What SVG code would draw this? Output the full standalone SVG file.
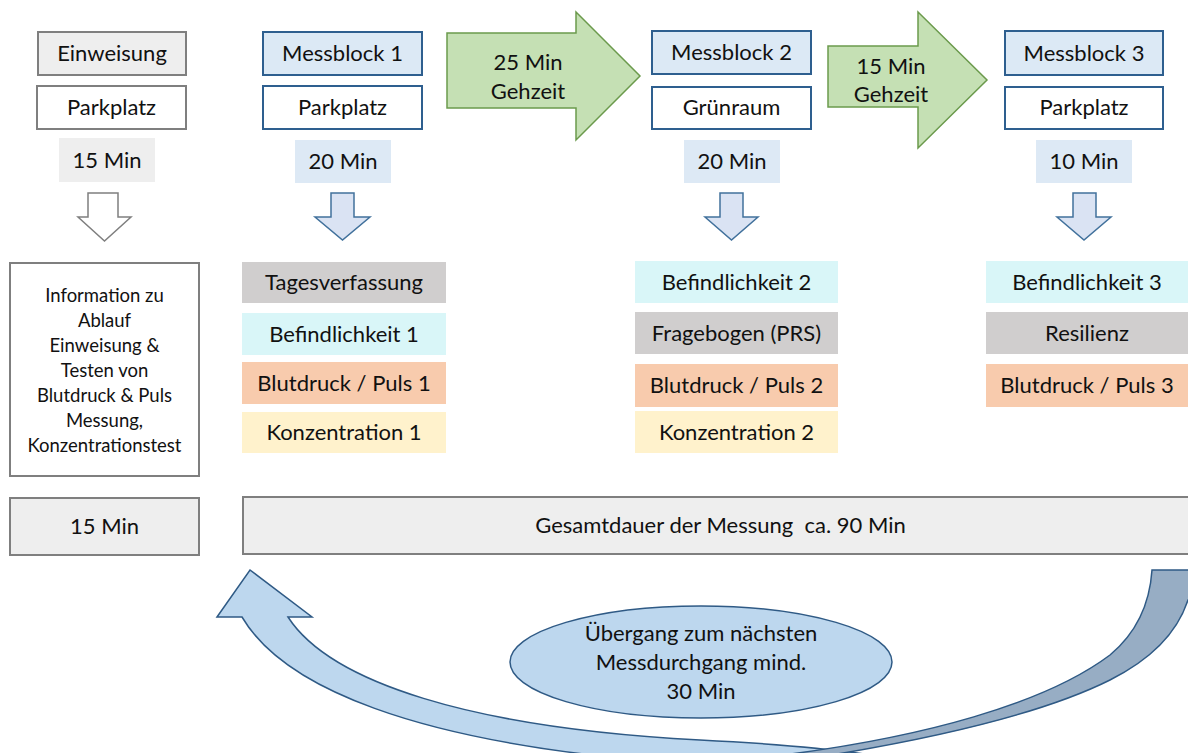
<svg xmlns="http://www.w3.org/2000/svg" width="1188" height="753" viewBox="0 0 1188 753">
<style>
text{font-family:Lato,"Open Sans","DejaVu Sans",sans-serif;fill:#111;text-anchor:middle}
.t{font-size:22px}
.s{font-size:18.5px}
.g{fill:#eeeeee;stroke:#7f7f7f;stroke-width:2}
.w{fill:#ffffff;stroke:#7f7f7f;stroke-width:2}
.bh{fill:#dce9f5;stroke:#2e5f8f;stroke-width:2}
.bw{fill:#ffffff;stroke:#2e5f8f;stroke-width:2}
.gt{fill:#eeeeee}
.bt{fill:#dde9f5}
.da{fill:#dae3f3;stroke:#41719c;stroke-width:1.5}
.dw{fill:#ffffff;stroke:#7f7f7f;stroke-width:1.5}
.ga{fill:#c5e0b4;stroke:#6b9a4c;stroke-width:1.5}
.c1{fill:#d0cece}
.c2{fill:#d9f6f8}
.c3{fill:#f8cbad}
.c4{fill:#fff2cc}
</style>
<rect width="1188" height="753" fill="#ffffff"/>

<g id="connectors">
  <polygon class="dw" points="88,193 118,193 118,217 131,217 104.5,241 78,217 88,217"/>
  <polygon class="da" points="331,193 354,193 354,217 370,217 342.5,240 315,217 331,217"/>
  <polygon class="da" points="720,193 743,193 743,217 758,217 731.5,240 705,217 720,217"/>
  <polygon class="da" points="1073,193 1096,193 1096,217 1111,217 1084,240 1057,217 1073,217"/>
  <g id="walk1">
    <polygon class="ga" points="447,33 576,33 576,12 640,76 576,140 576,108 447,108"/>
    <text class="t" x="528" y="70">25 Min</text>
    <text class="t" x="528" y="99">Gehzeit</text>
  </g>
  <g id="walk2">
    <polygon class="ga" points="828,46 918,46 918,12 987,80 918,148 918,107 828,107"/>
    <text class="t" x="891" y="74">15 Min</text>
    <text class="t" x="891" y="102">Gehzeit</text>
  </g>
  <g id="loop">
    <path d="M217,617 L250,570 L312,617 L288,617 C330,682 470,728 700,740 C780,744 850,750 900,760 L640,760 C420,740 285,690 242,617 Z" fill="#bdd7ee" stroke="#2f5a85" stroke-width="1.5"/>
    <path d="M1152,570 L1195,570 L1195,590 L1188,600 C1175,640 1140,665 1110,680 C1040,715 930,740 800,760 L740,760 C930,740 1050,700 1110,655 C1140,630 1150,600 1152,570 Z" fill="#97adc4" stroke="#2f5a85" stroke-width="1.5"/>
  </g>
</g>

<g id="einweisung">
  <rect class="g" x="38" y="32" width="148" height="43"/>
  <text class="t" x="112" y="61">Einweisung</text>
  <rect class="w" x="37" y="86" width="149" height="43"/>
  <text class="t" x="111.5" y="115">Parkplatz</text>
  <rect class="gt" x="59" y="138" width="96" height="44"/>
  <text class="t" x="107" y="168">15 Min</text>
</g>

<g id="messblock1">
  <rect class="bh" x="263" y="32" width="159" height="43"/>
  <text class="t" x="342.5" y="61">Messblock 1</text>
  <rect class="bw" x="263" y="86" width="159" height="43"/>
  <text class="t" x="342.5" y="115">Parkplatz</text>
  <rect class="bt" x="295" y="140" width="96" height="43"/>
  <text class="t" x="343" y="169">20 Min</text>
</g>

<g id="messblock2">
  <rect class="bh" x="652" y="31" width="159" height="43"/>
  <text class="t" x="731.5" y="60">Messblock 2</text>
  <rect class="bw" x="652" y="87" width="159" height="42"/>
  <text class="t" x="731.5" y="115">Grünraum</text>
  <rect class="bt" x="684" y="140" width="96" height="43"/>
  <text class="t" x="732" y="169">20 Min</text>
</g>

<g id="messblock3">
  <rect class="bh" x="1005" y="31" width="158" height="44"/>
  <text class="t" x="1084" y="61">Messblock 3</text>
  <rect class="bw" x="1005" y="87" width="158" height="42"/>
  <text class="t" x="1084" y="115">Parkplatz</text>
  <rect class="bt" x="1036" y="140" width="96" height="43"/>
  <text class="t" x="1084" y="169">10 Min</text>
</g>

<g id="info">
  <rect class="w" x="10" y="263" width="189" height="213"/>
  <text class="s" x="104.5" y="302">Information zu</text>
  <text class="s" x="104.5" y="327">Ablauf</text>
  <text class="s" x="104.5" y="352">Einweisung &amp;</text>
  <text class="s" x="104.5" y="377">Testen von</text>
  <text class="s" x="104.5" y="402">Blutdruck &amp; Puls</text>
  <text class="s" x="104.5" y="427">Messung,</text>
  <text class="s" x="104.5" y="452">Konzentrationstest</text>
</g>

<g id="items1">
  <rect class="c1" x="242" y="262" width="204" height="41"/>
  <text class="t" x="344" y="290">Tagesverfassung</text>
  <rect class="c2" x="242" y="313" width="204" height="42"/>
  <text class="t" x="344" y="342">Befindlichkeit 1</text>
  <rect class="c3" x="242" y="362" width="204" height="42"/>
  <text class="t" x="344" y="391">Blutdruck / Puls 1</text>
  <rect class="c4" x="242" y="412" width="204" height="41"/>
  <text class="t" x="344" y="440">Konzentration 1</text>
</g>

<g id="items2">
  <rect class="c2" x="635" y="261" width="203" height="42"/>
  <text class="t" x="736.5" y="290">Befindlichkeit 2</text>
  <rect class="c1" x="635" y="312" width="203" height="42"/>
  <text class="t" x="736.5" y="341">Fragebogen (PRS)</text>
  <rect class="c3" x="635" y="364" width="203" height="43"/>
  <text class="t" x="736.5" y="393">Blutdruck / Puls 2</text>
  <rect class="c4" x="635" y="411" width="203" height="42"/>
  <text class="t" x="736.5" y="440">Konzentration 2</text>
</g>

<g id="items3">
  <rect class="c2" x="986" y="261" width="210" height="42"/>
  <text class="t" x="1087" y="290">Befindlichkeit 3</text>
  <rect class="c1" x="986" y="312" width="210" height="42"/>
  <text class="t" x="1087" y="341">Resilienz</text>
  <rect class="c3" x="986" y="364" width="210" height="43"/>
  <text class="t" x="1087" y="393">Blutdruck / Puls 3</text>
</g>

<g id="dauer-einweisung">
  <rect class="g" x="10" y="498" width="189" height="57"/>
  <text class="t" x="104.5" y="534">15 Min</text>
</g>

<g id="gesamtdauer">
  <rect class="g" x="243" y="497" width="955" height="57"/>
  <text class="t" x="720.5" y="533" style="white-space:pre" xml:space="preserve">Gesamtdauer der Messung  ca. 90 Min</text>
</g>

<g id="uebergang">
  <ellipse cx="701" cy="662" rx="191" ry="56" fill="#bdd7ee" stroke="#2f5a85" stroke-width="1.5"/>
  <text class="t" x="701" y="641">Übergang zum nächsten</text>
  <text class="t" x="701" y="670">Messdurchgang mind.</text>
  <text class="t" x="701" y="699">30 Min</text>
</g>
</svg>
